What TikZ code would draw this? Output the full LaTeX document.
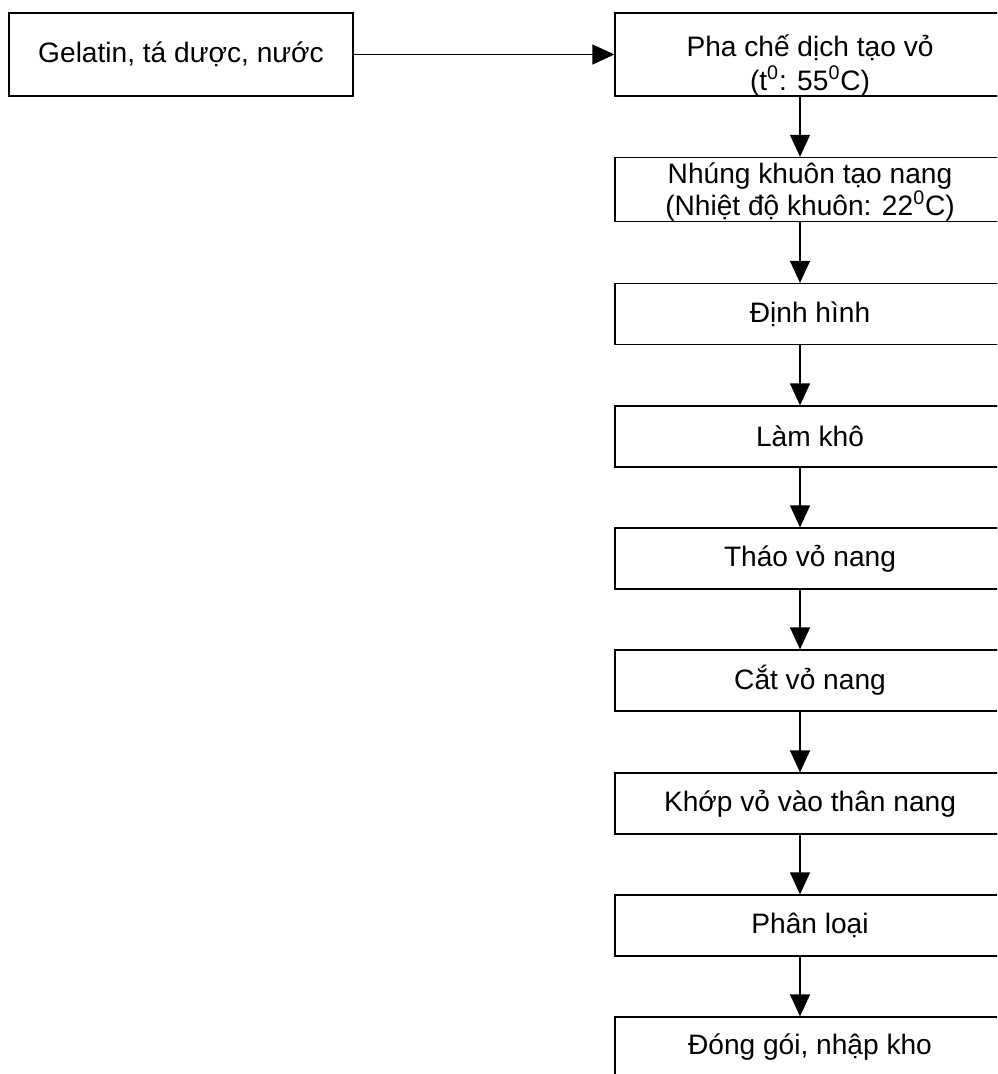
\documentclass[tikz,border=0pt]{standalone}
\usepackage{fontspec}
\setmainfont{Liberation Sans}
\usetikzlibrary{arrows.meta,positioning}

\begin{document}
\begin{tikzpicture}[font=\fontsize{16}{18}\selectfont,
  >={Triangle[length=0.44cm,width=0.4cm]},
  stage/.style={draw,line width=0.7pt,minimum width=7.8cm,minimum height=1.22cm,
                align=center,inner sep=0pt},
  flow/.style={->,line width=0.7pt}]
\clip (0,0) rectangle (19.94,-21.48);

\node[stage,minimum width=6.88cm,minimum height=1.66cm] (input) at (3.62,-1.09)
  {Gelatin, tá dược, nước};
\node[stage,minimum height=1.66cm] (s1) at (16.2,-1.09)
  {\raisebox{-7pt}[\height][\depth]{\begin{tabular}{@{}c@{}}Pha chế dịch tạo vỏ\\
   (t\textsuperscript{0}: 55\textsuperscript{0}C)\end{tabular}}};
\node[stage,minimum height=1.26cm] (s2) at (16.2,-3.79)
  {\raisebox{-2pt}[\height][\depth]{\begin{tabular}{@{}c@{}}Nhúng khuôn tạo nang\\[-1pt]
   (Nhiệt độ khuôn: 22\textsuperscript{0}C)\end{tabular}}};
\node[stage] (s3) at (16.2,-6.28) {Định hình};
\node[stage] (s4) at (16.2,-8.73) {Làm khô};
\node[stage] (s5) at (16.2,-11.17) {Tháo vỏ nang};
\node[stage] (s6) at (16.2,-13.61) {Cắt vỏ nang};
\node[stage] (s7) at (16.2,-16.07) {Khớp vỏ vào thân nang};
\node[stage] (s8) at (16.2,-18.51) {Phân loại};
\node[stage] (s9) at (16.2,-20.95) {Đóng gói, nhập kho};

\draw[flow] (input.east) -- (s1.west);
\foreach \a/\b in {s1/s2,s2/s3,s3/s4,s4/s5,s5/s6,s6/s7,s7/s8,s8/s9}
  \draw[flow] ([xshift=-0.2cm]\a.south) -- ([xshift=-0.2cm]\b.north);
\end{tikzpicture}
\end{document}
